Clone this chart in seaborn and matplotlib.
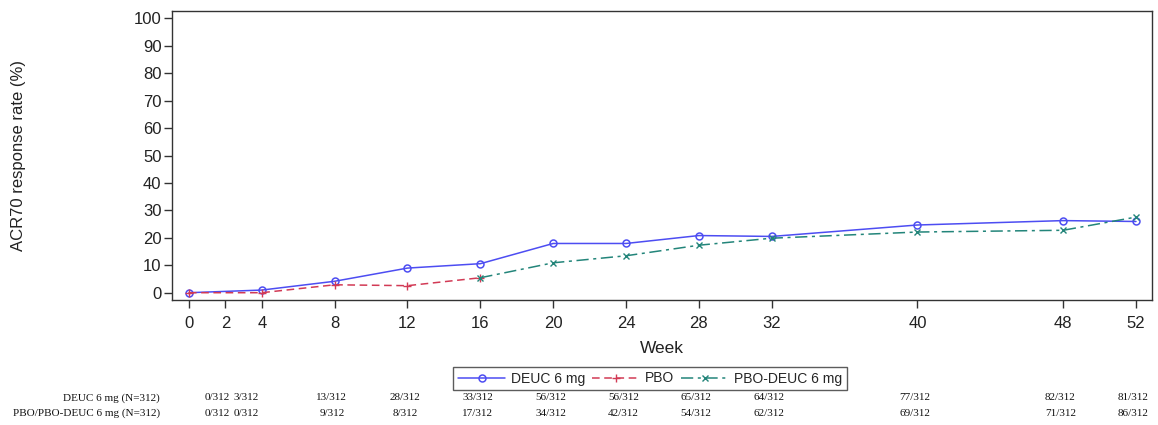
import matplotlib
matplotlib.use("Agg")
import matplotlib.pyplot as plt
import seaborn as sns
import pandas as pd
import numpy as np

# Visit weeks and responder counts (N=312 per arm)
weeks = [0, 4, 8, 12, 16, 20, 24, 28, 32, 40, 48, 52]
deuc_counts = [0, 3, 13, 28, 33, 56, 56, 65, 64, 77, 82, 81]
pbo_counts = [0, 0, 9, 8, 17, 34, 42, 54, 62, 69, 71, 86]
n_total = 312

x_ticks = [0, 2, 4, 8, 12, 16, 20, 24, 28, 32, 40, 48, 52]
y_ticks = list(range(0, 101, 10))

row_labels = ["DEUC 6 mg (N=312)", "PBO/PBO-DEUC 6 mg (N=312)"]

deuc_rate = [c / n_total * 100 for c in deuc_counts]
pbo_rate = [c / n_total * 100 for c in pbo_counts]

df_deuc = pd.DataFrame({"week": weeks, "rate": deuc_rate})
df_all = pd.DataFrame({"week": weeks, "rate": pbo_rate})
df_pbo = df_all[df_all["week"] <= 16]
df_switch = df_all[df_all["week"] >= 16]

sns.set_theme(style="ticks")
plt.rcParams["font.family"] = ["Liberation Sans", "DejaVu Sans"]

fig = plt.figure(figsize=(11.58, 4.25), dpi=100)
ax_bottom, ax_top = 1 - 300 / 425, 1 - 10.7 / 425
ax = fig.add_axes([172 / 1158, ax_bottom, (1152 - 172) / 1158, ax_top - ax_bottom])

blue = "#4d4df2"
red = "#d23a55"
teal = "#23857a"

sns.lineplot(data=df_deuc, x="week", y="rate", ax=ax, color=blue, lw=1.1,
             marker="o", markersize=5, markerfacecolor="none", markeredgecolor=blue,
             markeredgewidth=1.1, label="DEUC 6 mg")
sns.lineplot(data=df_pbo, x="week", y="rate", ax=ax, color=red, lw=1.1,
             linestyle=(0, (5, 3)), marker="+", markersize=5.5, markeredgecolor=red,
             markeredgewidth=1.0, label="PBO")
sns.lineplot(data=df_switch, x="week", y="rate", ax=ax, color=teal, lw=1.1,
             linestyle=(0, (8, 3, 2, 3)), marker="x", markersize=4.5, markeredgecolor=teal,
             markeredgewidth=1.0, label="PBO-DEUC 6 mg")

ax.set_xlim(-0.93, 52.88)
ax.set_ylim(-2.66, 102.8)
ax.set_xticks(x_ticks)
ax.set_yticks(y_ticks)
ax.tick_params(axis="both", labelsize=12, length=5.5, width=1, color="#333333",
               labelcolor="#222222", direction="out")
ax.tick_params(axis="x", pad=6)
ax.tick_params(axis="y", pad=2)
for s in ax.spines.values():
    s.set_visible(True)
    s.set_color("#333333")
    s.set_linewidth(1.0)

ax.set_xlabel("Week", fontsize=12.5, color="#222222", labelpad=7)
ax.set_ylabel("ACR70 response rate (%)", fontsize=12, color="#222222")
ax.yaxis.set_label_coords(19 / 1158, (ax_bottom + ax_top) / 2, transform=fig.transFigure)
ax.yaxis.label.set_va("center")

leg = ax.legend(loc="center", bbox_to_anchor=(650 / 1158, 1 - 378.5 / 425),
                bbox_transform=fig.transFigure, ncol=3, frameon=True, fancybox=False,
                fontsize=10, handlelength=3.4, handletextpad=0.4, columnspacing=0.5,
                borderpad=0.35, borderaxespad=0)
leg.get_frame().set_edgecolor("#333333")
leg.get_frame().set_linewidth(1.0)

# Counts table beneath the axis
serif = ["Liberation Serif", "DejaVu Serif"]
row_y = [1 - 398 / 425, 1 - 413 / 425]
label_weeks = [1.55, 3.15] + [w - 0.15 for w in weeks[2:]]
trans = matplotlib.transforms.blended_transform_factory(ax.transData, fig.transFigure)
for r, (lab, counts) in enumerate(zip(row_labels, [deuc_counts, pbo_counts])):
    fig.text(160 / 1158, row_y[r], lab, ha="right", va="center", fontsize=8,
             family=serif, color="#111111")
    for xw, c in zip(label_weeks, counts):
        ax.text(xw, row_y[r], f"{c}/{n_total}", transform=trans, ha="center",
                va="center", fontsize=8, family=serif, color="#111111", clip_on=False)

fig.savefig("out.png", dpi=100)
